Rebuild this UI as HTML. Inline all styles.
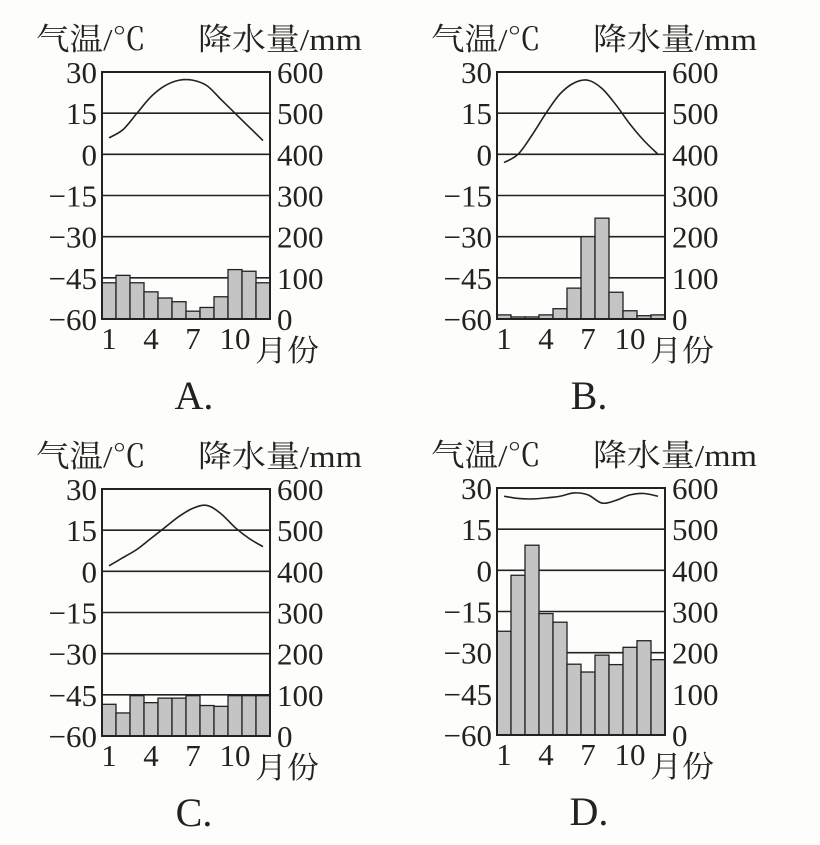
<!DOCTYPE html>
<html><head><meta charset="utf-8"><style>
html,body{margin:0;padding:0;background:#fdfdfb;}
svg{display:block;}
text{font-family:"Liberation Serif","Noto Serif CJK SC",serif;fill:#222;}
</style></head><body>
<svg id="s" width="820" height="845" xmlns="http://www.w3.org/2000/svg"></svg>
<script>
const charts=[
 {x:102,y:72,lab:"A.",p:[88,106,88,66,51,42,19,28,54,120,116,88],t:[6,9,15,21,25,27,27,25,20,15,10,5]},
 {x:497,y:72,lab:"B.",p:[10,5,5,10,25,75,200,245,65,20,8,10],t:[-3,0,7,15,22,26,27,24,18,11,5,0]},
 {x:102,y:489,lab:"C.",p:[77,56,98,81,92,92,98,74,72,98,98,98],t:[2,5,8,12,16,20,23,24,21,16,12,9]},
 {x:497,y:488,lab:"D.",p:[252,388,461,295,274,172,153,194,171,213,229,183],t:[27,26.2,26,26.4,27,28.2,27.5,24.5,25.5,27.5,28,27]}
];
const W=168,H=247,bw=W/12;
const LA='lengthAdjust="spacingAndGlyphs"';
let h='';
for(const c of charts){
 const X=c.x,Y=c.y;
 h+=`<text x="${X-66}" y="${Y-22}" font-size="31" textLength="110" ${LA}>气温/℃</text>`;
 h+=`<text x="${X+96}" y="${Y-22}" font-size="31" textLength="164" ${LA}>降水量/mm</text>`;
 const tl=[30,15,0,-15,-30,-45,-60],rl=[600,500,400,300,200,100,0];
 for(let i=0;i<7;i++){
  const yy=Y+i*H/6;
  h+=`<line x1="${X}" x2="${X+W}" y1="${yy}" y2="${yy}" stroke="#222" stroke-width="1.6"/>`;
  const s=String(tl[i]).replace('-','−');
  h+=`<text x="${X-5}" y="${yy+11}" font-size="31" text-anchor="end">${s}</text>`;
  h+=`<text x="${X+W+7}" y="${yy+11}" font-size="31">${rl[i]}</text>`;
 }
 c.p.forEach((v,i)=>{const bh=v/600*H;h+=`<rect x="${X+i*bw}" y="${Y+H-bh}" width="${bw}" height="${bh}" fill="#c4c4c4" stroke="#222" stroke-width="1.3"/>`;});
 h+=`<rect x="${X}" y="${Y}" width="${W}" height="${H}" fill="none" stroke="#222" stroke-width="2"/>`;
 const pts=c.t.map((t,i)=>[X+(i+0.5)*bw,Y+(30-t)/90*H]);
 let d=`M${pts[0][0]},${pts[0][1]}`;
 for(let i=0;i<pts.length-1;i++){
  const p0=pts[Math.max(0,i-1)],p1=pts[i],p2=pts[i+1],p3=pts[Math.min(pts.length-1,i+2)];
  const c1=[p1[0]+(p2[0]-p0[0])/6,p1[1]+(p2[1]-p0[1])/6],c2=[p2[0]-(p3[0]-p1[0])/6,p2[1]-(p3[1]-p1[1])/6];
  d+=` C${c1[0]},${c1[1]} ${c2[0]},${c2[1]} ${p2[0]},${p2[1]}`;
 }
 h+=`<path d="${d}" fill="none" stroke="#222" stroke-width="1.6"/>`;
 [[1,0],[4,3],[7,6],[10,9]].forEach(([m,i])=>{h+=`<text x="${X+(i+0.5)*bw}" y="${Y+H+30}" font-size="31" text-anchor="middle">${m}</text>`;});
 h+=`<text x="${X+W-15}" y="${Y+H+42}" font-size="30" textLength="64" ${LA}>月份</text>`;
 h+=`<text x="${X+92}" y="${Y+H+90}" font-size="40" text-anchor="middle">${c.lab}</text>`;
}
document.getElementById('s').innerHTML=h;
</script>
</body></html>
